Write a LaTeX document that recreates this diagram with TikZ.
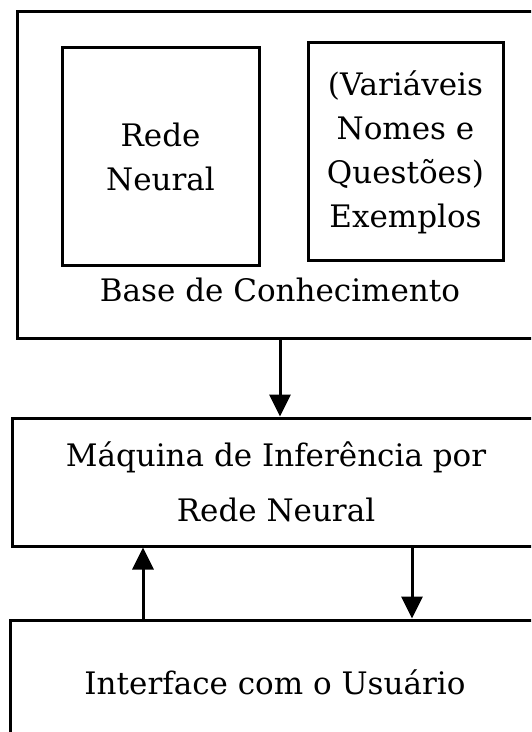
\documentclass[tikz,border=0pt]{standalone}
\usepackage{fontspec}
\setmainfont{DejaVu Serif}
\usepackage{tikz}
\usetikzlibrary{arrows.meta}

\begin{document}
\begin{tikzpicture}[x=0.5pt, y=-0.5pt,
    caixa/.style={draw, line width=1.5pt, rectangle, align=center, inner sep=0pt},
    seta/.style={line width=1.5pt, -{Triangle[length=11pt, width=10.5pt]}},
    font=\fontsize{15.5}{22}\selectfont]
    % Frame of the page
    \useasboundingbox (0,0) rectangle (531,732);
    \clip (0,0) rectangle (531,732);

    % Base de conhecimento
    \node[caixa, minimum width=261.5pt, minimum height=163pt] (base) at (278.5,175) {};
    \node[caixa, minimum width=98.5pt, minimum height=109pt] (rede) at (160.5,157) {Rede\\Neural};
    \node[caixa, minimum width=97.5pt, minimum height=109pt] (exemplos) at (405.5,152)
        {(Variáveis\\Nomes e\\Questões)\\Exemplos};
    \node (baselbl) at (280,290) {Base de Conhecimento};

    % Maquina de inferencia
    \node[caixa, minimum width=264pt, minimum height=64pt, font=\fontsize{15.5}{27.5}\selectfont]
        (maquina) at (276,482) {Máquina de Inferência por\\Rede Neural};

    % Interface
    \node[caixa, minimum width=265pt, minimum height=62.5pt] (interface) at (275,682.5)
        {Interface com o Usuário};

    % Ligacoes
    \coordinate (subida) at (143,580);
    \coordinate (descida) at (412,580);
    \draw[seta] (base.south -| baselbl) -- (maquina.north -| baselbl);
    \draw[seta] (interface.north -| subida) -- (maquina.south -| subida);
    \draw[seta] (maquina.south -| descida) -- (interface.north -| descida);
\end{tikzpicture}
\end{document}
